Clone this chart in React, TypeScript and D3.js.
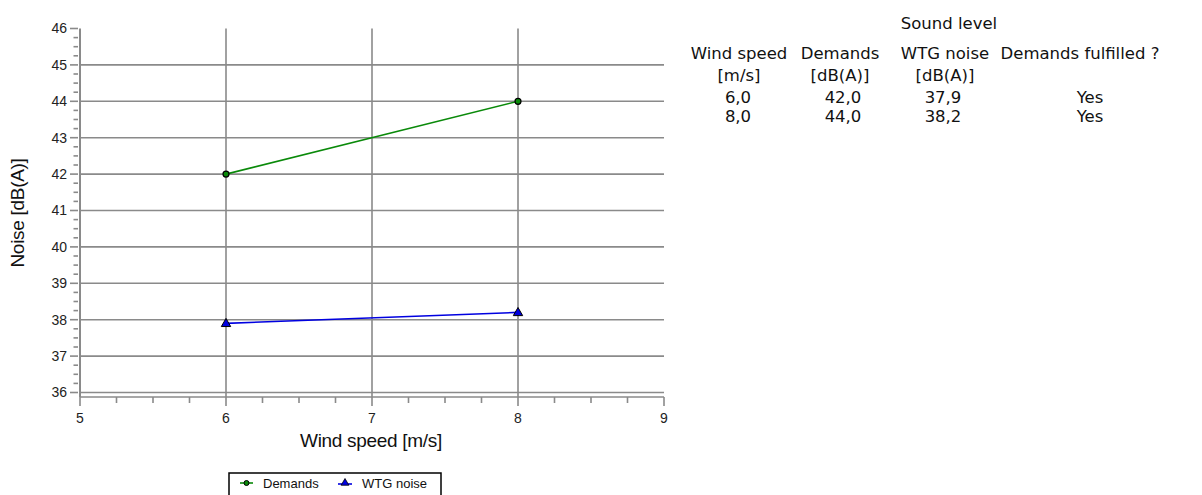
import React from "react";
import * as d3 from "d3";

const windSpeeds = [6, 8];
const demands = [42.0, 44.0];
const wtgNoise = [37.9, 38.2];
const fulfilled = ["Yes", "Yes"];
const xTicks = [5, 6, 7, 8, 9];
const yTicks = [36, 37, 38, 39, 40, 41, 42, 43, 44, 45, 46];
const tableHeaders = ["Wind speed", "Demands", "WTG noise", "Demands fulfilled ?"];
const tableUnits = ["[m/s]", "[dB(A)]", "[dB(A)]", ""];

const fmt = (v: number) => v.toFixed(1).replace(".", ",");

export default function App() {
  const x = d3.scaleLinear().domain([5, 9]).range([80, 664]);
  const y = d3.scaleLinear().domain([36, 46]).range([392.5, 28.5]);
  const axisY = 397;
  const grid = "#8a8a8a";
  const line = d3
    .line<[number, number]>()
    .x((d) => x(d[0]))
    .y((d) => y(d[1]));
  const demPts = windSpeeds.map((w, i) => [w, demands[i]] as [number, number]);
  const wtgPts = windSpeeds.map((w, i) => [w, wtgNoise[i]] as [number, number]);
  const tri = d3.symbol().type(d3.symbolTriangle).size(38)();
  const xMinor = d3.range(5, 9.001, 0.25).filter((v) => Math.abs(v - Math.round(v)) > 1e-6);
  const yMinor = d3.range(36, 46.001, 0.25).filter((v) => Math.abs(v - Math.round(v)) > 1e-6);
  const colX = [739, 840, 945, 1080];
  const valX = [738, 843, 943, 1090];
  const tf = "'DejaVu Sans', sans-serif";
  const af = "'Liberation Sans', Arial, sans-serif";
  const tfs = 16.5;

  return (
    <svg width={1202} height={495} style={{ position: "absolute", left: 0, top: 0, background: "#fff" }}>
      {/* horizontal grid */}
      {yTicks.filter((t) => t < 46).map((t) => (
        <line key={"hg" + t} x1={x(5)} x2={x(9)} y1={y(t)} y2={y(t)} stroke={grid} strokeWidth={1.6} />
      ))}
      {/* vertical grid */}
      {xTicks.filter((t) => t > 5 && t < 9).map((t) => (
        <line key={"vg" + t} x1={x(t)} x2={x(t)} y1={y(46)} y2={axisY} stroke={grid} strokeWidth={1.6} />
      ))}
      {/* axes */}
      <line x1={x(5)} x2={x(5)} y1={y(46)} y2={axisY} stroke={grid} strokeWidth={2} />
      <line x1={x(5)} x2={x(9)} y1={axisY} y2={axisY} stroke={grid} strokeWidth={1.6} />
      {/* y ticks */}
      {yTicks.map((t) => (
        <g key={"yt" + t}>
          <line x1={70} x2={78} y1={y(t)} y2={y(t)} stroke={grid} strokeWidth={1.6} />
          <text x={67} y={y(t)} dy="0.35em" textAnchor="end" fontFamily={af} fontSize={14} fill="#222">
            {t}
          </text>
        </g>
      ))}
      {yMinor.map((t, i) => (
        <line key={"ym" + i} x1={73.5} x2={78} y1={y(t)} y2={y(t)} stroke={grid} strokeWidth={1.6} />
      ))}
      {/* x ticks */}
      {xTicks.map((t) => (
        <g key={"xt" + t}>
          <line x1={x(t)} x2={x(t)} y1={axisY} y2={406} stroke={grid} strokeWidth={1.6} />
          <text x={x(t)} y={423} textAnchor="middle" fontFamily={af} fontSize={14} fill="#222">
            {t}
          </text>
        </g>
      ))}
      {xMinor.map((t, i) => (
        <line key={"xm" + i} x1={x(t)} x2={x(t)} y1={axisY} y2={403} stroke={grid} strokeWidth={1.6} />
      ))}
      {/* axis titles */}
      <text x={371} y={447} textAnchor="middle" fontFamily={af} fontSize={19} fill="#111" letterSpacing={-0.3}>
        Wind speed [m/s]
      </text>
      <text
        transform="translate(24,213) rotate(-90)"
        textAnchor="middle"
        fontFamily={af}
        fontSize={19}
        fill="#111"
        letterSpacing={-0.3}
      >
        Noise [dB(A)]
      </text>
      {/* series */}
      <path d={line(demPts) || ""} fill="none" stroke="#0a8a0a" strokeWidth={1.6} />
      <path d={line(wtgPts) || ""} fill="none" stroke="#0000e0" strokeWidth={1.6} />
      {demPts.map((p, i) => (
        <circle key={"dc" + i} cx={x(p[0])} cy={y(p[1])} r={3} fill="#0a8a0a" stroke="#000" strokeWidth={1.2} />
      ))}
      {wtgPts.map((p, i) => (
        <path
          key={"wt" + i}
          d={tri || ""}
          transform={`translate(${x(p[0])},${y(p[1]) + 0.5})`}
          fill="#0000e0"
          stroke="#000"
          strokeWidth={1}
        />
      ))}
      {/* legend */}
      <rect x={229} y={473} width={212} height={30} fill="#fff" stroke="#000" strokeWidth={1.5} />
      <line x1={240} x2={253} y1={483} y2={483} stroke="#0a8a0a" strokeWidth={1.6} />
      <circle cx={246.5} cy={483} r={2.5} fill="#0a8a0a" stroke="#000" strokeWidth={1} />
      <text x={263} y={487.5} fontFamily={af} fontSize={13} fill="#111">
        Demands
      </text>
      <line x1={338} x2={352} y1={484} y2={484} stroke="#0000e0" strokeWidth={1.6} />
      <path d={d3.symbol().type(d3.symbolTriangle).size(26)() || ""} transform="translate(345,483)" fill="#0000e0" stroke="#000" strokeWidth={0.8} />
      <text x={362} y={487.5} fontFamily={af} fontSize={13} fill="#111">
        WTG noise
      </text>
      {/* table */}
      <text x={949} y={29} textAnchor="middle" fontFamily={tf} fontSize={tfs} fill="#111">
        Sound level
      </text>
      {tableHeaders.map((h, i) => (
        <text key={"th" + i} x={colX[i]} y={59} textAnchor="middle" fontFamily={tf} fontSize={tfs} fill="#111">
          {h}
        </text>
      ))}
      {tableUnits.map((h, i) => (
        <text key={"tu" + i} x={colX[i]} y={81} textAnchor="middle" fontFamily={tf} fontSize={tfs} fill="#111">
          {h}
        </text>
      ))}
      {windSpeeds.map((w, r) => (
        <g key={"row" + r}>
          <text x={valX[0]} y={103 + r * 19} textAnchor="middle" fontFamily={tf} fontSize={tfs} fill="#111">
            {fmt(w)}
          </text>
          <text x={valX[1]} y={103 + r * 19} textAnchor="middle" fontFamily={tf} fontSize={tfs} fill="#111">
            {fmt(demands[r])}
          </text>
          <text x={valX[2]} y={103 + r * 19} textAnchor="middle" fontFamily={tf} fontSize={tfs} fill="#111">
            {fmt(wtgNoise[r])}
          </text>
          <text x={valX[3]} y={103 + r * 19} textAnchor="middle" fontFamily={tf} fontSize={tfs} fill="#111">
            {fulfilled[r]}
          </text>
        </g>
      ))}
    </svg>
  );
}
